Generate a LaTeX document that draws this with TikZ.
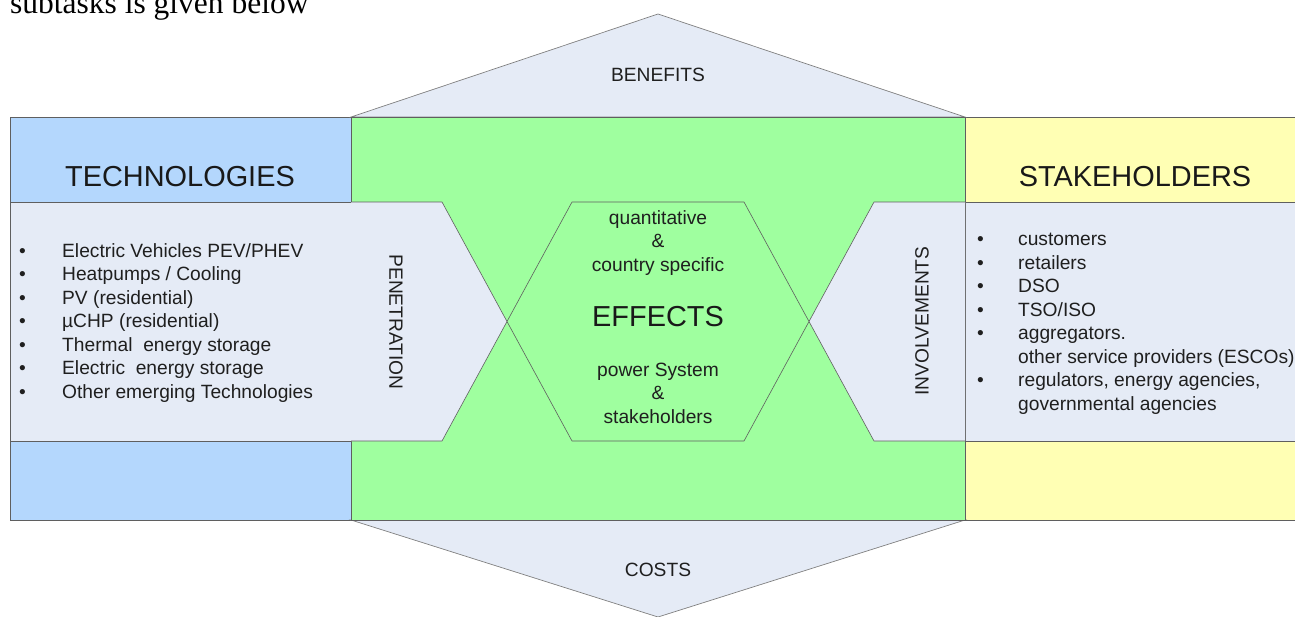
\documentclass[tikz,border=0pt]{standalone}
\usepackage{fontspec}
\setmainfont{Liberation Sans}
\newfontfamily\docserif{Liberation Serif}
\usetikzlibrary{positioning}
\definecolor{techblue}{RGB}{180,215,253}
\definecolor{stakeyellow}{RGB}{255,255,180}
\definecolor{effgreen}{RGB}{159,255,159}
\definecolor{panelgrey}{RGB}{229,235,246}
\definecolor{edgegrey}{RGB}{95,95,95}
\tikzset{box/.style={draw=edgegrey,line width=0.9pt}}
\tikzset{thinbox/.style={draw=edgegrey,line width=0.6pt}}
\tikzset{lbl/.style={inner sep=0pt,text=black!88,font=\fontsize{19.2}{23.5}\selectfont}}
\tikzset{big/.style={inner sep=0pt,text=black!90,font=\fontsize{28.9}{32}\selectfont}}
\newcommand{\bul}[2][43pt]{\makebox[#1][l]{\textbullet}#2}

\begin{document}
\begin{tikzpicture}[x=1pt,y=-1pt]
\useasboundingbox (0,0) rectangle (1295,616);
\clip (0,0) rectangle (1295,616);

\node[anchor=base west,inner sep=0pt,font=\docserif\fontsize{31.5}{34}\selectfont] (intro) at (10,13) {subtasks is given below};

% side columns
\draw[box,fill=techblue] (10,117) rectangle (351,520);
\draw[box,fill=panelgrey] (10,202) rectangle (351,441);
\draw[box,fill=stakeyellow] (965,117) rectangle (1310,520);
\draw[box,fill=panelgrey] (965,202) rectangle (1310,441);

% benefits and costs
\draw[draw=gray,line width=0.7pt,fill=panelgrey] (351,117) -- (658,14) -- (965,117) -- cycle;
\draw[draw=gray,line width=0.7pt,fill=panelgrey] (351,520) -- (658,617) -- (965,520) -- cycle;

% centre
\draw[box,fill=effgreen] (351,117) rectangle (965,520);
\draw[thinbox,fill=panelgrey] (351,202) -- (442,202) -- (507,321.5) -- (442,441) -- (351,441);
\draw[thinbox,fill=panelgrey] (965,202) -- (874,202) -- (809,321.5) -- (874,441) -- (965,441);
\draw[thinbox,fill=effgreen] (572,202) -- (744,202) -- (809,321.5) -- (744,441) -- (572,441) -- (507,321.5) -- cycle;

\node[lbl] (benefits) at (658,75) {BENEFITS};
\node[lbl] (costs) at (658,570) {COSTS};
\node[big] (tech) at (180,177) {TECHNOLOGIES};
\node[big] (stake) at (1135,177) {STAKEHOLDERS};
\node[lbl,rotate=-90] (pen) at (396,322) {PENETRATION};
\node[lbl,rotate=90] (inv) at (922,321) {INVOLVEMENTS};

\node[big] (effects) at (658,317) {EFFECTS};
\node[lbl,align=center] (quant) at (658,243) {quantitative\\\&\\country specific};
\node[lbl,align=center] (power) at (658,393) {power System\\\&\\stakeholders};

\node[lbl,anchor=west,align=left] (techlist) at (19,323) {%
  \bul{Electric Vehicles PEV/PHEV}\\
  \bul{Heatpumps / Cooling}\\
  \bul{PV (residential)}\\
  \bul{µCHP (residential)}\\
  \bul{Thermal\ \ energy storage}\\
  \bul{Electric\ \ energy storage}\\
  \bul{Other emerging Technologies}};

\node[lbl,anchor=west,align=left] (stakelist) at (977,324) {%
  \bul[41pt]{customers}\\
  \bul[41pt]{retailers}\\
  \bul[41pt]{DSO}\\
  \bul[41pt]{TSO/ISO}\\
  \bul[41pt]{aggregators.}\\
  \hspace*{41pt}other service providers (ESCOs)\\
  \bul[41pt]{regulators, energy agencies,}\\
  \hspace*{41pt}governmental agencies};
\end{tikzpicture}
\end{document}
